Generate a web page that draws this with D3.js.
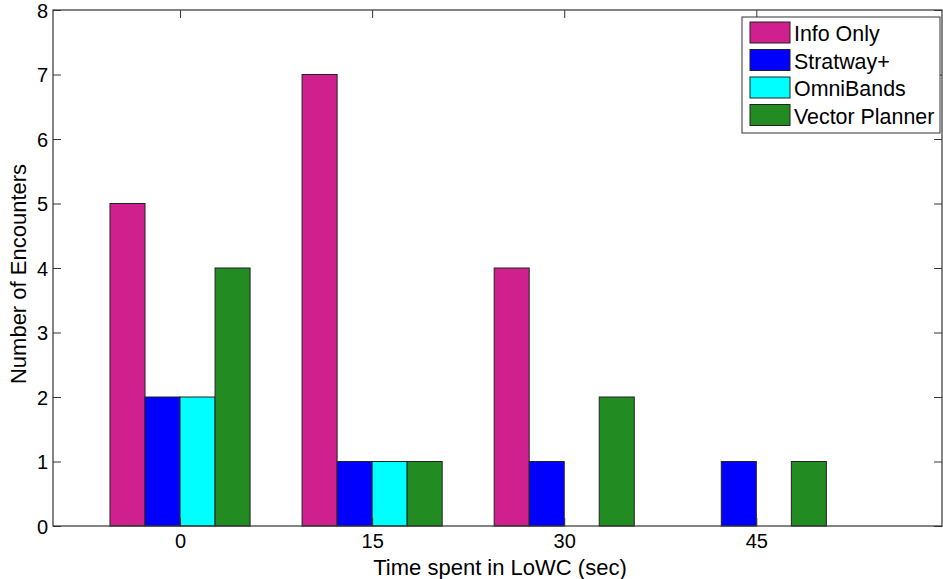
<!DOCTYPE html>
<html><head><meta charset="utf-8">
<script src="https://cdn.jsdelivr.net/npm/d3@7"></script>
<style>body{margin:0;background:#fff}svg{display:block;font-family:Arial,"Liberation Sans",sans-serif}</style>
</head><body><svg id="c" width="943" height="579"></svg>
<script>
const categories = [0, 15, 30, 45];
const seriesNames = ["Info Only", "Stratway+", "OmniBands", "Vector Planner"];
const infoOnly = [5, 7, 4, 0];
const stratway = [2, 1, 1, 1];
const omniBands = [2, 1, 0, 0];
const vectorPlanner = [4, 1, 2, 1];
const colors = ["#D02090", "#0000FF", "#00FFFF", "#228B22"];
const yTicks = [0,1,2,3,4,5,6,7,8];
const xLabel = "Time spent in LoWC (sec)";
const yLabel = "Number of Encounters";

const series = [infoOnly, stratway, omniBands, vectorPlanner];
const svg = d3.select("#c");
const L = 53, R = 942, T = 10, B = 526;
const x = d3.scaleLinear().domain([-9.92, 59.5]).range([L, R]);
const y = d3.scaleLinear().domain([0, 8]).range([B, T]);
const groupW = 10.94; // data units
const barW = groupW / 4;
const axisColor = "#333";
const fontFam = "Arial, 'Liberation Sans', sans-serif";

// bars
series.forEach((vals, si) => {
  svg.append("g").selectAll("rect")
    .data(categories.map((c, i) => ({c, v: vals[i]})).filter(d => d.v > 0))
    .join("rect")
    .attr("x", d => x(d.c - groupW/2 + si*barW))
    .attr("width", d => x(barW) - x(0))
    .attr("y", d => y(d.v))
    .attr("height", d => y(0) - y(d.v))
    .attr("fill", colors[si])
    .attr("stroke", "#222")
    .attr("stroke-width", 1);
});

// axes
const gL = svg.append("g").attr("transform", `translate(${L},0)`)
  .call(d3.axisLeft(y).tickValues(yTicks).tickSize(-8).tickFormat(d3.format("d")));
const gR = svg.append("g").attr("transform", `translate(${R},0)`)
  .call(d3.axisRight(y).tickValues(yTicks).tickSize(-8).tickFormat(""));
const gB = svg.append("g").attr("transform", `translate(0,${B})`)
  .call(d3.axisBottom(x).tickValues(categories).tickSize(-8).tickFormat(d3.format("d")));
const gT = svg.append("g").attr("transform", `translate(0,${T})`)
  .call(d3.axisTop(x).tickValues(categories).tickSize(-8).tickFormat(""));
[gL, gR, gB, gT].forEach(g => {
  g.select(".domain").remove();
  g.selectAll("line").attr("stroke", axisColor);
  g.selectAll("text").attr("font-size", "20px").attr("fill", "#000").attr("font-family", fontFam);
});
gL.selectAll("text").attr("x", -5).attr("dy", "0.35em");
gB.selectAll("text").attr("y", 22).attr("dy", 0);
svg.append("rect").attr("x", L).attr("y", T).attr("width", R - L).attr("height", B - T)
  .attr("fill", "none").attr("stroke", axisColor).attr("stroke-width", 1.2);

// labels
svg.append("text").attr("x", 500).attr("y", 575).attr("text-anchor", "middle")
  .attr("font-size", "22px").text(xLabel);
svg.append("text").attr("transform", `translate(26,274) rotate(-90)`)
  .attr("text-anchor", "middle").attr("font-size", "22px").text(yLabel);

// legend
const lg = svg.append("g");
lg.append("rect").attr("x", 742).attr("y", 17).attr("width", 198).attr("height", 116)
  .attr("fill", "#fff").attr("stroke", axisColor).attr("stroke-width", 1);
seriesNames.forEach((n, i) => {
  const yy = 22 + i * 27.5;
  lg.append("rect").attr("x", 750).attr("y", yy).attr("width", 40).attr("height", 21)
    .attr("fill", colors[i]).attr("stroke", "#222");
  lg.append("text").attr("x", 794).attr("y", yy + 19).attr("font-size", "21.4px").text(n);
});
</script></body></html>
